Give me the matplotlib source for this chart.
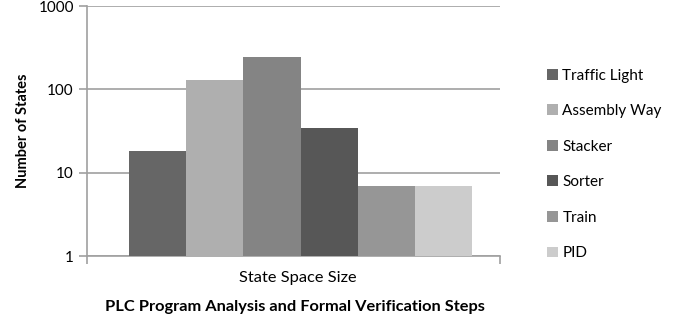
import matplotlib
matplotlib.use("Agg")
import matplotlib.pyplot as plt
import numpy as np

plt.rcParams['font.family'] = ['Lato', 'DejaVu Sans']

programs = ["Traffic Light", "Assembly Way", "Stacker", "Sorter", "Train", "PID"]
states = [18, 130, 245, 34, 7, 7]
colors = ["#666666", "#afafaf", "#848484", "#575757", "#969696", "#cccccc"]
category = "State Space Size"

fig = plt.figure(figsize=(6.89, 3.2), dpi=100)
ax = fig.add_axes([0.1263, 0.2, 0.5994, 0.781])

n = len(programs)
group = 0.83
w = group / n
shift = 0.017
offsets = (np.arange(n) - (n - 1) / 2) * w + shift
for off, v, c, lab in zip(offsets, states, colors, programs):
    ax.bar(off, v, width=w, color=c, label=lab, zorder=3)

ax.set_yscale("log")
ax.set_ylim(1, 1000)
ax.set_xlim(-0.5, 0.5)
ax.set_yticks([1, 10, 100, 1000])
ax.set_yticklabels(["1", "10", "100", "1000"])
ax.minorticks_off()
ax.yaxis.grid(True, color="#a0a0a0", linewidth=1.2, zorder=0)
ax.set_xticks([-0.5, 0.5])
ax.set_xticklabels(["", ""])
ax.tick_params(axis="both", colors="#a0a0a0", labelcolor="black", labelsize=11,
               length=6, width=1.2)
ax.text(0.51, -0.088, category, transform=ax.transAxes, ha="center", va="center",
        fontsize=11.8)

for s in ["top", "right"]:
    ax.spines[s].set_visible(False)
for s in ["left", "bottom"]:
    ax.spines[s].set_color("#a0a0a0")
    ax.spines[s].set_linewidth(1.2)

ax.set_ylabel("Number of States", fontsize=10.5, fontweight="bold", labelpad=6)
fig.text(0.428, 0.04, "PLC Program Analysis and Formal Verification Steps",
         ha="center", va="center", fontsize=11.8, fontweight="bold")

ax.legend(loc="upper left", bbox_to_anchor=(1.114, 0.75), frameon=False,
          fontsize=11, handlelength=0.7, handleheight=0.7, handletextpad=0.3,
          labelspacing=1.41, borderpad=0, borderaxespad=0)

fig.savefig("out.png", dpi=100)
